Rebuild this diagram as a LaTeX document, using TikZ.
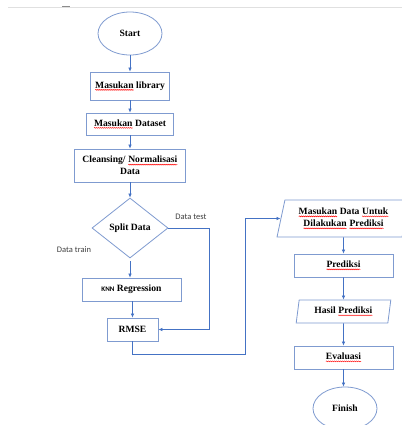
\documentclass[tikz,border=0pt]{standalone}
\usepackage{fontspec}
\setmainfont{Liberation Serif}
\newfontfamily\carl{Carlito}
\usetikzlibrary{shapes.geometric,arrows.meta,decorations.pathmorphing,calc}
\definecolor{boxc}{HTML}{7F9BD0}
\definecolor{arrc}{HTML}{4472C4}
\newcommand\rw[1]{\tikz[baseline=0pt,x=1cm,y=1cm]{\node[shape=rectangle,draw=none,fill=none,inner sep=0pt,outer sep=0pt,minimum width=0pt,minimum height=0pt,anchor=base,align=left] (rwn) at (0,0) {#1};\draw[red,line width=0.45bp,decorate,decoration={snake,amplitude=0.5bp,segment length=2bp}] ([yshift=-1.8bp]rwn.base west) -- ([yshift=-1.8bp]rwn.base east);}}
\tikzset{
  box/.style={draw=boxc, line width=0.8bp, rectangle, inner sep=0pt, align=center},
  term/.style={draw=boxc, line width=0.8bp, ellipse, inner sep=0pt},
  para/.style={draw=boxc, line width=0.8bp, trapezium, trapezium stretches=true, inner sep=0pt, align=center},
  arr/.style={draw=arrc, line width=0.6bp, -{Latex[length=4bp,width=3.5bp]}},
  lbl/.style={font=\carl\fontsize{8.5bp}{10bp}\selectfont, text=black!75, inner sep=0pt}
}
\begin{document}
\begin{tikzpicture}[x=1bp,y=-1bp,font=\fontsize{9.6bp}{12bp}\selectfont\bfseries]
\useasboundingbox (0,0) rectangle (402,425);
\fill[white] (0,0) rectangle (402,425);
\draw[black!12, line width=0.7bp] (8,7) -- (402,7);
\draw[black!45, line width=0.9bp] (62,6.5) -- (70,6.5);

\node[term, minimum width=64bp, minimum height=43bp] (start) at (130,33.5) {Start};
\node[box, minimum width=79bp, minimum height=28bp] (lib) at (130,86) {\rw{Masukan} library};
\node[box, minimum width=87bp, minimum height=22bp] (ds) at (130,124) {\rw{Masukan} Dataset};
\node[box, minimum width=111bp, minimum height=33bp] (cl) at (130,165.5) {Cleansing/ \rw{Normalisasi}\\Data};
\node[diamond, draw=boxc, line width=0.8bp, inner sep=0pt, minimum width=76bp, minimum height=60bp] (split) at (130,228) {Split Data};
\node[box, minimum width=99bp, minimum height=23bp] (knn) at (131.5,289.5) {{\carl\fontsize{7bp}{8bp}\selectfont KNN} Regression};
\node[box, minimum width=51bp, minimum height=23bp] (rmse) at (132.5,329.5) {RMSE};
\node[lbl] (ltest) at (191,217) {Data test};
\node[lbl] (ltrain) at (74,250) {Data train};

\node[para, trapezium left angle=74, trapezium right angle=106, minimum width=133bp, minimum height=37bp] (in1) at (343.5,218.5) {\rw{Masukan} Data \rw{Untuk}\\\rw{Dilakukan} \rw{Prediksi}};
\node[box, minimum width=99bp, minimum height=23bp] (pred) at (343.5,265.5) {\rw{Prediksi}};
\node[para, trapezium left angle=78, trapezium right angle=102, minimum width=95bp, minimum height=23bp] (hasil) at (343.5,311.5) {Hasil \rw{Prediksi}};
\node[box, minimum width=99bp, minimum height=23bp] (eval) at (343.5,357.5) {\rw{Evaluasi}};
\node[term, minimum width=64bp, minimum height=43bp] (finish) at (345,408.5) {Finish};

\coordinate (j1) at (245,354);

\draw[arr] (start.south) -- (lib.north);
\draw[arr] (lib.south) -- (ds.north);
\draw[arr] (ds.south) -- (cl.north);
\draw[arr] (cl.south) -- (split.north);
\draw[arr, shorten <=3bp] (split.south) -- (split.south |- knn.north);
\draw[arr] (knn.south -| rmse.north) -- (rmse.north);
\draw[arr] (split.east) -- ++(41,0) |- (rmse.east);
\draw[arr] (rmse.south) |- (j1) |- (in1.west);
\draw[arr] (in1.south) -- (pred.north);
\draw[arr] (pred.south) -- (hasil.north);
\draw[arr] (hasil.south) -- (eval.north);
\draw[arr] (eval.south) -- (eval.south |- finish.north);
\end{tikzpicture}
\end{document}
